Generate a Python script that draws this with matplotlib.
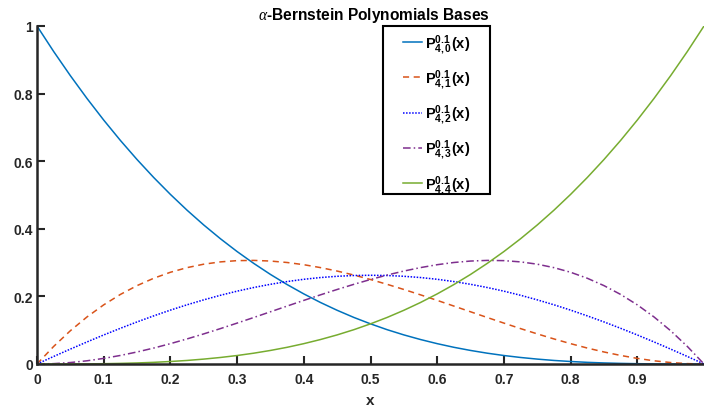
import numpy as np
import matplotlib
matplotlib.use("Agg")
import matplotlib.pyplot as plt
from matplotlib.patches import Rectangle

plt.rcParams['font.family'] = ['Liberation Sans', 'DejaVu Sans']
plt.rcParams['mathtext.fontset'] = 'custom'
plt.rcParams['mathtext.rm'] = 'Liberation Sans'
plt.rcParams['mathtext.bf'] = 'Liberation Sans:bold'
plt.rcParams['mathtext.it'] = 'Liberation Serif:italic'

x = np.linspace(0, 1, 41)

p40 = [1.0, 0.9245, 0.8531, 0.7855, 0.7217, 0.6615, 0.6049, 0.5517, 0.5018, 0.4550,
       0.4113, 0.3706, 0.3327, 0.2976, 0.2650, 0.2350, 0.2074, 0.1820, 0.1589, 0.1378,
       0.1188, 0.1015, 0.0861, 0.0724, 0.0602, 0.0494, 0.0401, 0.0320, 0.0251, 0.0193,
       0.0145, 0.0105, 0.0074, 0.0049, 0.0031, 0.0018, 0.0009, 0.0004, 0.0001, 0.0000, 0.0]
p41 = [0.0, 0.0520, 0.0984, 0.1393, 0.1750, 0.2058, 0.2319, 0.2537, 0.2714, 0.2851,
       0.2953, 0.3021, 0.3058, 0.3065, 0.3046, 0.3003, 0.2938, 0.2852, 0.2750, 0.2632,
       0.2500, 0.2357, 0.2205, 0.2046, 0.1882, 0.1714, 0.1545, 0.1376, 0.1210, 0.1047,
       0.0891, 0.0742, 0.0602, 0.0472, 0.0356, 0.0253, 0.0166, 0.0095, 0.0043, 0.0011, 0.0]
p42 = [0.0, 0.0223, 0.0441, 0.0653, 0.0859, 0.1056, 0.1245, 0.1424, 0.1594, 0.1752,
       0.1898, 0.2033, 0.2155, 0.2263, 0.2358, 0.2439, 0.2506, 0.2558, 0.2595, 0.2618,
       0.2625, 0.2618, 0.2595, 0.2558, 0.2506, 0.2439, 0.2358, 0.2263, 0.2155, 0.2033,
       0.1898, 0.1752, 0.1594, 0.1424, 0.1245, 0.1056, 0.0859, 0.0653, 0.0441, 0.0223, 0.0]
p43 = [0.0, 0.0011, 0.0043, 0.0095, 0.0166, 0.0253, 0.0356, 0.0472, 0.0602, 0.0742,
       0.0891, 0.1047, 0.1210, 0.1376, 0.1545, 0.1714, 0.1882, 0.2046, 0.2205, 0.2357,
       0.2500, 0.2632, 0.2750, 0.2852, 0.2938, 0.3003, 0.3046, 0.3065, 0.3058, 0.3021,
       0.2953, 0.2851, 0.2714, 0.2537, 0.2319, 0.2058, 0.1750, 0.1393, 0.0984, 0.0520, 0.0]
p44 = [0.0, 0.0000, 0.0001, 0.0004, 0.0009, 0.0018, 0.0031, 0.0049, 0.0074, 0.0105,
       0.0145, 0.0193, 0.0251, 0.0320, 0.0401, 0.0494, 0.0602, 0.0724, 0.0861, 0.1015,
       0.1188, 0.1378, 0.1589, 0.1820, 0.2074, 0.2350, 0.2650, 0.2976, 0.3327, 0.3706,
       0.4113, 0.4550, 0.5018, 0.5517, 0.6049, 0.6615, 0.7217, 0.7855, 0.8531, 0.9245, 1.0]

labels = [r'$\mathbf{P^{0.1}_{4,%d}(x)}$' % i for i in range(5)]
xticks = [0, 0.1, 0.2, 0.3, 0.4, 0.5, 0.6, 0.7, 0.8, 0.9]
xticklabels = ['0', '0.1', '0.2', '0.3', '0.4', '0.5', '0.6', '0.7', '0.8', '0.9']
yticks = [0, 0.2, 0.4, 0.6, 0.8, 1.0]
yticklabels = ['0', '0.2', '0.4', '0.6', '0.8', '1']

W, H = 704, 410
fig = plt.figure(figsize=(W/100, H/100), dpi=100)
ax = fig.add_axes([37/W, 45/H, 1 - 37/W, 338/H])

styles = [
    (p40, '#0072BD', '-'),
    (p41, '#D95319', (0, (4, 3))),
    (p42, '#0000FF', (0, (1, 1))),
    (p43, '#7E2F8E', (0, (5, 2, 1, 2))),
    (p44, '#77AC30', '-'),
]
handles = []
for (y, c, ls), lab in zip(styles, labels):
    h, = ax.plot(x, y, color=c, linestyle=ls, linewidth=1.1, label=lab)
    handles.append(h)

ax.set_xlim(0, 1)
ax.set_ylim(0, 1)
ax.set_xticks(xticks)
ax.set_xticklabels(xticklabels)
ax.set_yticks(yticks)
ax.set_yticklabels(yticklabels)
for s in ['top', 'right']:
    ax.spines[s].set_visible(False)
for s in ['left', 'bottom']:
    ax.spines[s].set_color('#262626')
    ax.spines[s].set_linewidth(1.8)
ax.tick_params(axis='y', direction='in', length=6, width=1.5, colors='#262626', labelsize=10, pad=3)
ax.tick_params(axis='x', direction='in', length=6, width=1.5, colors='#262626', labelsize=10, pad=6)
for lab in ax.get_xticklabels() + ax.get_yticklabels():
    lab.set_fontweight('bold')

ax.set_xlabel('x', fontsize=11, fontweight='bold', color='#262626', labelpad=4.5)
fig.text(374/W, 1 - 20/H, r'$\alpha$-Bernstein Polynomials Bases', ha='center', va='baseline',
         fontsize=11.2, fontweight='bold', color='black')

# legend box (MATLAB-style, fixed size)
fig.patches.append(Rectangle((383/W, 1 - 195/H), 107/W, 168/H, transform=fig.transFigure,
                             facecolor='white', edgecolor='black', linewidth=1.5, zorder=5))
leg = fig.legend(handles=handles, loc='upper left', bbox_to_anchor=(399/W, 1 - 29/H),
                 bbox_transform=fig.transFigure, fontsize=10.5, frameon=False,
                 labelspacing=0.8, handlelength=1.3, handletextpad=0.15,
                 borderpad=0.3, borderaxespad=0)
leg.set_zorder(6)

fig.savefig('out.png', dpi=100)
